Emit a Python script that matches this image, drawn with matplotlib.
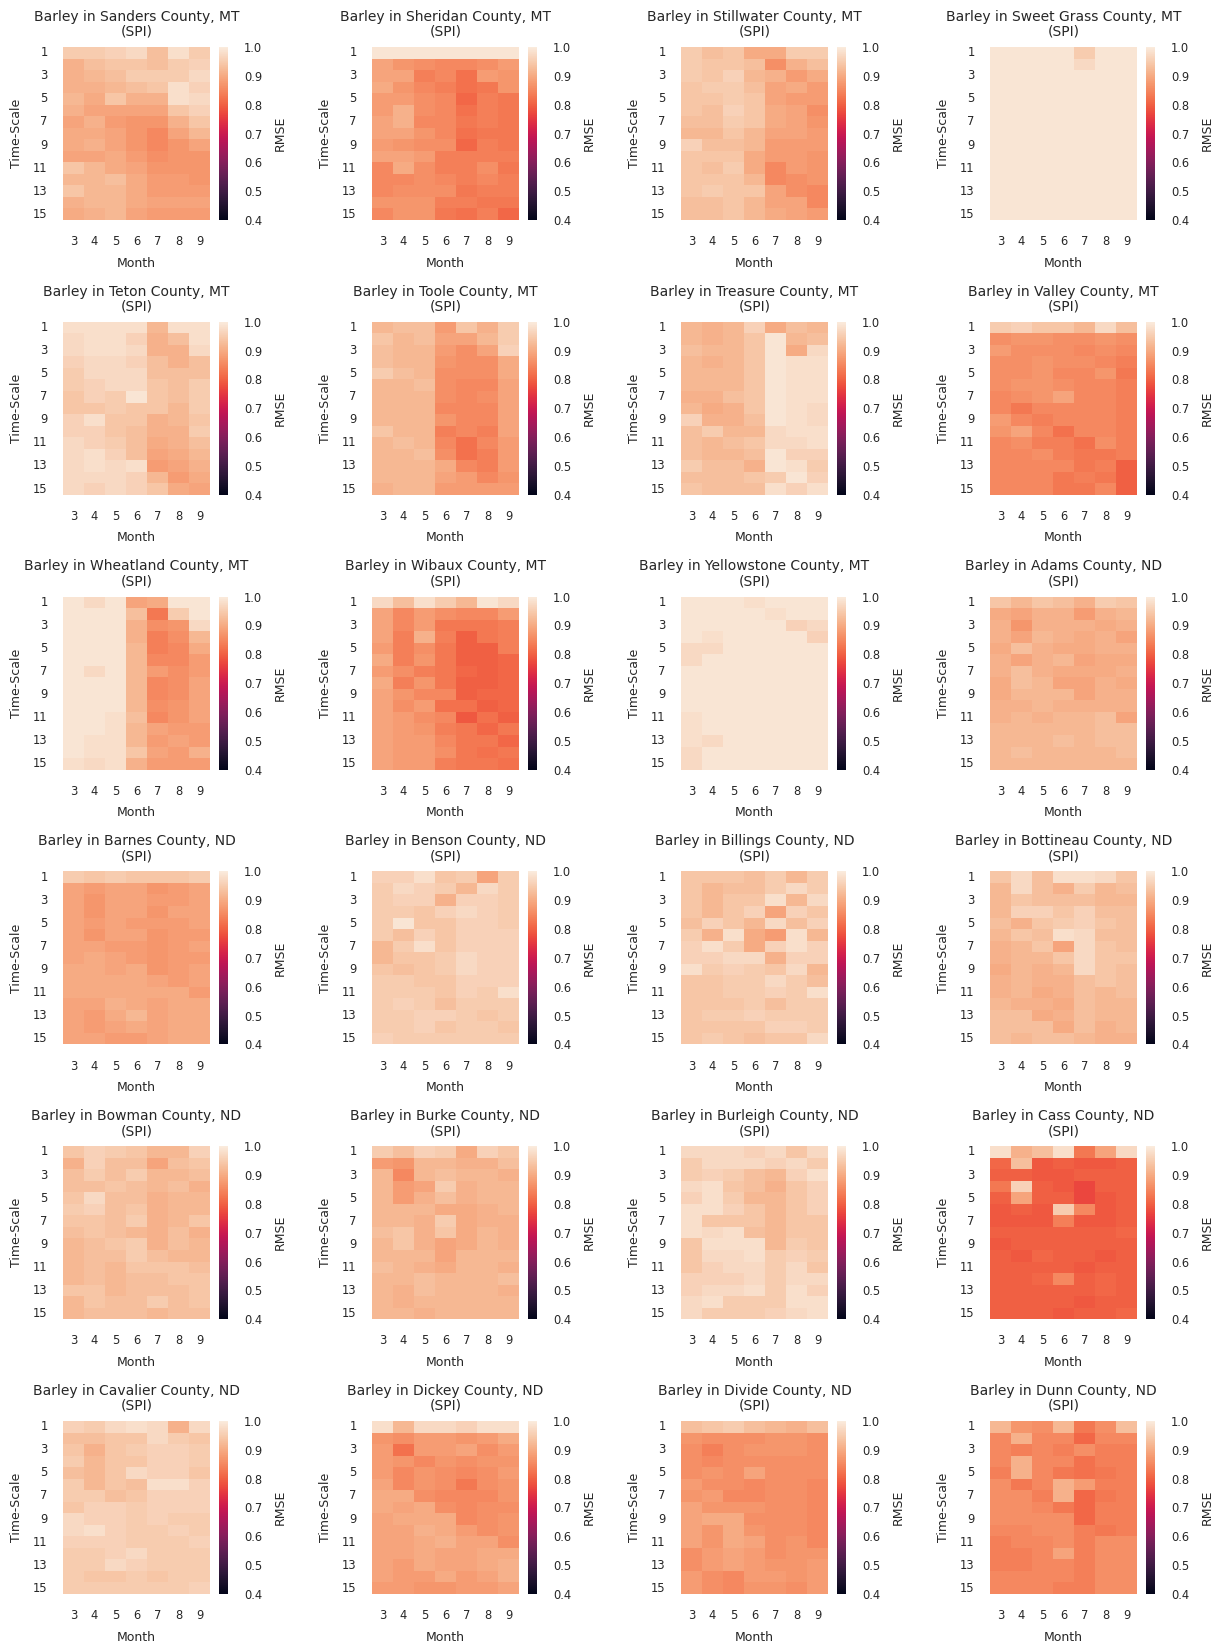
import matplotlib
matplotlib.use("Agg")
import matplotlib.pyplot as plt
import seaborn as sns
import pandas as pd

# RMSE per time-scale (rows 1..15) and month (columns 3..9)
months = [3, 4, 5, 6, 7, 8, 9]
time_scales = [1, 2, 3, 4, 5, 6, 7, 8, 9, 10, 11, 12, 13, 14, 15]

sanders = [
    [0.95, 0.95, 0.96, 0.97, 0.93, 0.98, 0.95],
    [0.91, 0.93, 0.94, 0.94, 0.93, 0.95, 0.96],
    [0.91, 0.92, 0.93, 0.95, 0.95, 0.95, 0.97],
    [0.91, 0.91, 0.92, 0.93, 0.94, 0.98, 0.96],
    [0.92, 0.90, 0.94, 0.91, 0.91, 0.98, 0.97],
    [0.91, 0.89, 0.89, 0.89, 0.89, 0.94, 0.96],
    [0.89, 0.91, 0.88, 0.87, 0.87, 0.91, 0.94],
    [0.90, 0.90, 0.89, 0.87, 0.85, 0.89, 0.92],
    [0.90, 0.91, 0.89, 0.87, 0.85, 0.87, 0.89],
    [0.89, 0.89, 0.90, 0.88, 0.86, 0.87, 0.87],
    [0.94, 0.92, 0.90, 0.89, 0.87, 0.87, 0.87],
    [0.92, 0.92, 0.93, 0.90, 0.88, 0.88, 0.87],
    [0.94, 0.92, 0.92, 0.90, 0.88, 0.88, 0.88],
    [0.91, 0.92, 0.92, 0.90, 0.89, 0.89, 0.89],
    [0.90, 0.91, 0.92, 0.89, 0.88, 0.88, 0.88],
]
sheridan = [
    [0.99, 0.99, 0.99, 0.99, 0.99, 0.99, 0.99],
    [0.89, 0.87, 0.86, 0.85, 0.85, 0.86, 0.88],
    [0.89, 0.89, 0.84, 0.85, 0.82, 0.88, 0.87],
    [0.90, 0.87, 0.85, 0.84, 0.82, 0.83, 0.87],
    [0.88, 0.88, 0.86, 0.85, 0.81, 0.84, 0.83],
    [0.88, 0.91, 0.86, 0.85, 0.82, 0.84, 0.83],
    [0.89, 0.91, 0.85, 0.85, 0.83, 0.84, 0.83],
    [0.89, 0.89, 0.87, 0.85, 0.82, 0.83, 0.83],
    [0.88, 0.87, 0.86, 0.86, 0.81, 0.84, 0.83],
    [0.89, 0.89, 0.88, 0.84, 0.84, 0.84, 0.84],
    [0.85, 0.90, 0.86, 0.84, 0.84, 0.86, 0.83],
    [0.85, 0.85, 0.86, 0.85, 0.84, 0.85, 0.84],
    [0.85, 0.86, 0.86, 0.86, 0.83, 0.84, 0.84],
    [0.87, 0.87, 0.87, 0.84, 0.84, 0.83, 0.83],
    [0.85, 0.87, 0.87, 0.83, 0.82, 0.84, 0.81],
]
stillwater = [
    [0.95, 0.93, 0.94, 0.90, 0.90, 0.95, 0.95],
    [0.95, 0.94, 0.94, 0.93, 0.86, 0.91, 0.93],
    [0.95, 0.94, 0.96, 0.92, 0.91, 0.88, 0.90],
    [0.94, 0.95, 0.95, 0.93, 0.89, 0.90, 0.88],
    [0.94, 0.94, 0.95, 0.94, 0.89, 0.88, 0.88],
    [0.94, 0.93, 0.96, 0.94, 0.90, 0.89, 0.86],
    [0.93, 0.93, 0.95, 0.94, 0.90, 0.89, 0.87],
    [0.92, 0.92, 0.94, 0.92, 0.89, 0.89, 0.88],
    [0.96, 0.93, 0.93, 0.92, 0.88, 0.88, 0.88],
    [0.94, 0.94, 0.94, 0.90, 0.88, 0.88, 0.87],
    [0.94, 0.93, 0.95, 0.90, 0.85, 0.88, 0.87],
    [0.94, 0.94, 0.94, 0.92, 0.85, 0.86, 0.87],
    [0.94, 0.95, 0.94, 0.94, 0.89, 0.86, 0.85],
    [0.93, 0.93, 0.94, 0.92, 0.89, 0.89, 0.85],
    [0.93, 0.93, 0.94, 0.92, 0.90, 0.89, 0.88],
]
sweet_grass = [
    [0.99, 0.99, 0.99, 0.99, 0.95, 0.99, 0.99],
    [0.99, 0.99, 0.99, 0.99, 0.97, 0.99, 0.99],
    [0.99, 0.99, 0.99, 0.99, 0.99, 0.99, 0.99],
    [0.99, 0.99, 0.99, 0.99, 0.99, 0.99, 0.99],
    [0.99, 0.99, 0.99, 0.99, 0.99, 0.99, 0.99],
    [0.99, 0.99, 0.99, 0.99, 0.99, 0.99, 0.99],
    [0.99, 0.99, 0.99, 0.99, 0.99, 0.99, 0.99],
    [0.99, 0.99, 0.99, 0.99, 0.99, 0.99, 0.99],
    [0.99, 0.99, 0.99, 0.99, 0.99, 0.99, 0.99],
    [0.99, 0.99, 0.99, 0.99, 0.99, 0.99, 0.99],
    [0.99, 0.99, 0.99, 0.99, 0.99, 0.99, 0.99],
    [0.99, 0.99, 0.99, 0.99, 0.99, 0.99, 0.99],
    [0.99, 0.99, 0.99, 0.99, 0.99, 0.99, 0.99],
    [0.99, 0.99, 0.99, 0.99, 0.99, 0.99, 0.99],
    [0.99, 0.99, 0.99, 0.99, 0.99, 0.99, 0.99],
]
teton = [
    [0.98, 0.98, 0.98, 0.98, 0.92, 0.98, 0.98],
    [0.97, 0.98, 0.98, 0.96, 0.91, 0.93, 0.98],
    [0.97, 0.98, 0.98, 0.97, 0.91, 0.91, 0.97],
    [0.96, 0.97, 0.97, 0.96, 0.93, 0.91, 0.93],
    [0.95, 0.97, 0.97, 0.97, 0.93, 0.93, 0.93],
    [0.95, 0.96, 0.97, 0.97, 0.94, 0.93, 0.95],
    [0.94, 0.96, 0.95, 0.99, 0.94, 0.93, 0.95],
    [0.94, 0.94, 0.95, 0.94, 0.94, 0.92, 0.95],
    [0.96, 0.98, 0.94, 0.94, 0.91, 0.92, 0.94],
    [0.96, 0.96, 0.94, 0.93, 0.91, 0.91, 0.95],
    [0.97, 0.96, 0.95, 0.93, 0.90, 0.91, 0.93],
    [0.97, 0.98, 0.96, 0.93, 0.89, 0.90, 0.92],
    [0.97, 0.98, 0.97, 0.98, 0.88, 0.89, 0.91],
    [0.97, 0.97, 0.97, 0.96, 0.92, 0.88, 0.90],
    [0.97, 0.96, 0.97, 0.96, 0.94, 0.90, 0.89],
]
toole = [
    [0.92, 0.93, 0.93, 0.88, 0.94, 0.91, 0.95],
    [0.94, 0.92, 0.93, 0.89, 0.89, 0.92, 0.95],
    [0.93, 0.92, 0.92, 0.88, 0.86, 0.89, 0.96],
    [0.93, 0.92, 0.92, 0.87, 0.86, 0.86, 0.90],
    [0.95, 0.93, 0.92, 0.86, 0.86, 0.86, 0.90],
    [0.92, 0.92, 0.93, 0.86, 0.85, 0.85, 0.89],
    [0.92, 0.92, 0.92, 0.86, 0.85, 0.86, 0.89],
    [0.92, 0.92, 0.92, 0.85, 0.85, 0.85, 0.89],
    [0.92, 0.92, 0.92, 0.87, 0.85, 0.85, 0.89],
    [0.94, 0.92, 0.92, 0.84, 0.85, 0.84, 0.89],
    [0.92, 0.93, 0.92, 0.85, 0.82, 0.85, 0.88],
    [0.92, 0.92, 0.93, 0.86, 0.82, 0.84, 0.88],
    [0.92, 0.92, 0.92, 0.90, 0.85, 0.84, 0.88],
    [0.92, 0.92, 0.92, 0.89, 0.88, 0.85, 0.87],
    [0.91, 0.92, 0.92, 0.88, 0.88, 0.88, 0.88],
]
treasure = [
    [0.92, 0.91, 0.92, 0.96, 0.90, 0.93, 0.92],
    [0.92, 0.91, 0.92, 0.94, 0.99, 0.92, 0.93],
    [0.93, 0.92, 0.92, 0.94, 0.99, 0.90, 0.97],
    [0.92, 0.91, 0.92, 0.94, 0.99, 0.98, 0.98],
    [0.92, 0.92, 0.92, 0.94, 0.99, 0.98, 0.98],
    [0.92, 0.92, 0.92, 0.94, 0.99, 0.98, 0.98],
    [0.91, 0.91, 0.93, 0.94, 0.99, 0.98, 0.98],
    [0.92, 0.90, 0.91, 0.94, 0.99, 0.98, 0.97],
    [0.96, 0.91, 0.91, 0.93, 0.99, 0.98, 0.97],
    [0.93, 0.95, 0.92, 0.92, 0.97, 0.98, 0.98],
    [0.93, 0.92, 0.93, 0.94, 0.97, 0.97, 0.98],
    [0.93, 0.92, 0.92, 0.93, 0.99, 0.96, 0.96],
    [0.95, 0.93, 0.93, 0.91, 0.99, 0.98, 0.95],
    [0.93, 0.93, 0.93, 0.94, 0.95, 0.99, 0.96],
    [0.94, 0.93, 0.93, 0.93, 0.98, 0.96, 0.98],
]
valley = [
    [0.95, 0.96, 0.94, 0.94, 0.92, 0.97, 0.93],
    [0.86, 0.87, 0.87, 0.86, 0.86, 0.87, 0.86],
    [0.88, 0.86, 0.86, 0.86, 0.85, 0.86, 0.85],
    [0.86, 0.86, 0.87, 0.86, 0.86, 0.85, 0.84],
    [0.86, 0.86, 0.87, 0.85, 0.85, 0.87, 0.83],
    [0.86, 0.87, 0.87, 0.86, 0.85, 0.85, 0.84],
    [0.85, 0.86, 0.87, 0.89, 0.85, 0.85, 0.84],
    [0.85, 0.83, 0.85, 0.85, 0.85, 0.85, 0.84],
    [0.88, 0.85, 0.84, 0.85, 0.85, 0.85, 0.84],
    [0.87, 0.89, 0.85, 0.82, 0.85, 0.85, 0.84],
    [0.85, 0.86, 0.84, 0.84, 0.82, 0.86, 0.84],
    [0.85, 0.85, 0.86, 0.84, 0.83, 0.83, 0.84],
    [0.85, 0.85, 0.85, 0.85, 0.83, 0.84, 0.80],
    [0.85, 0.85, 0.85, 0.83, 0.84, 0.83, 0.80],
    [0.85, 0.85, 0.85, 0.83, 0.83, 0.85, 0.80],
]
wheatland = [
    [0.99, 0.97, 0.99, 0.89, 0.90, 0.99, 0.99],
    [0.99, 0.99, 0.99, 0.93, 0.83, 0.95, 0.99],
    [0.99, 0.99, 0.99, 0.91, 0.86, 0.87, 0.97],
    [0.99, 0.99, 0.99, 0.91, 0.84, 0.86, 0.92],
    [0.99, 0.99, 0.99, 0.92, 0.84, 0.85, 0.90],
    [0.99, 0.99, 0.99, 0.92, 0.85, 0.85, 0.88],
    [0.99, 0.97, 0.99, 0.92, 0.88, 0.86, 0.88],
    [0.99, 0.99, 0.99, 0.92, 0.85, 0.86, 0.89],
    [0.99, 0.99, 0.99, 0.92, 0.85, 0.86, 0.89],
    [0.99, 0.99, 0.99, 0.92, 0.86, 0.87, 0.89],
    [0.99, 0.99, 0.98, 0.93, 0.85, 0.87, 0.89],
    [0.99, 0.99, 0.98, 0.92, 0.89, 0.88, 0.88],
    [0.99, 0.98, 0.98, 0.92, 0.88, 0.89, 0.88],
    [0.99, 0.98, 0.98, 0.94, 0.89, 0.88, 0.91],
    [0.98, 0.97, 0.98, 0.91, 0.88, 0.88, 0.88],
]
wibaux = [
    [0.97, 0.93, 0.98, 0.95, 0.92, 0.99, 0.97],
    [0.89, 0.85, 0.88, 0.86, 0.85, 0.85, 0.88],
    [0.89, 0.85, 0.88, 0.83, 0.83, 0.83, 0.84],
    [0.89, 0.84, 0.91, 0.84, 0.80, 0.83, 0.84],
    [0.88, 0.84, 0.86, 0.83, 0.80, 0.80, 0.84],
    [0.90, 0.84, 0.87, 0.83, 0.80, 0.80, 0.81],
    [0.88, 0.86, 0.84, 0.83, 0.81, 0.80, 0.81],
    [0.90, 0.84, 0.87, 0.83, 0.80, 0.80, 0.81],
    [0.89, 0.87, 0.85, 0.85, 0.80, 0.81, 0.81],
    [0.89, 0.86, 0.88, 0.82, 0.82, 0.80, 0.81],
    [0.89, 0.88, 0.86, 0.85, 0.79, 0.82, 0.80],
    [0.89, 0.88, 0.87, 0.84, 0.83, 0.81, 0.83],
    [0.89, 0.88, 0.88, 0.85, 0.83, 0.83, 0.81],
    [0.89, 0.88, 0.88, 0.86, 0.83, 0.82, 0.83],
    [0.89, 0.88, 0.88, 0.84, 0.83, 0.83, 0.82],
]
yellowstone = [
    [0.99, 0.99, 0.99, 0.98, 0.99, 0.99, 0.99],
    [0.99, 0.99, 0.99, 0.99, 0.98, 0.99, 0.99],
    [0.99, 0.99, 0.99, 0.99, 0.99, 0.96, 0.97],
    [0.99, 0.98, 0.99, 0.99, 0.99, 0.99, 0.96],
    [0.97, 0.97, 0.99, 0.99, 0.99, 0.99, 0.99],
    [0.97, 0.99, 0.99, 0.99, 0.99, 0.99, 0.99],
    [0.99, 0.99, 0.99, 0.99, 0.99, 0.99, 0.99],
    [0.99, 0.99, 0.99, 0.99, 0.99, 0.99, 0.99],
    [0.99, 0.99, 0.99, 0.99, 0.99, 0.99, 0.99],
    [0.99, 0.99, 0.99, 0.99, 0.99, 0.99, 0.99],
    [0.98, 0.99, 0.99, 0.99, 0.99, 0.99, 0.99],
    [0.98, 0.99, 0.99, 0.99, 0.99, 0.99, 0.99],
    [0.98, 0.97, 0.99, 0.99, 0.99, 0.99, 0.99],
    [0.97, 0.99, 0.99, 0.99, 0.99, 0.99, 0.99],
    [0.97, 0.99, 0.99, 0.99, 0.99, 0.99, 0.99],
]
adams = [
    [0.94, 0.92, 0.94, 0.93, 0.91, 0.95, 0.94],
    [0.90, 0.89, 0.91, 0.91, 0.88, 0.91, 0.92],
    [0.91, 0.87, 0.91, 0.91, 0.91, 0.90, 0.91],
    [0.91, 0.89, 0.92, 0.91, 0.90, 0.91, 0.89],
    [0.90, 0.93, 0.91, 0.90, 0.90, 0.91, 0.91],
    [0.91, 0.89, 0.91, 0.92, 0.89, 0.90, 0.90],
    [0.91, 0.93, 0.91, 0.90, 0.90, 0.90, 0.91],
    [0.90, 0.93, 0.92, 0.89, 0.89, 0.91, 0.90],
    [0.90, 0.92, 0.92, 0.92, 0.89, 0.91, 0.91],
    [0.91, 0.91, 0.92, 0.91, 0.91, 0.91, 0.91],
    [0.91, 0.92, 0.91, 0.92, 0.92, 0.93, 0.89],
    [0.92, 0.92, 0.92, 0.92, 0.92, 0.93, 0.93],
    [0.92, 0.92, 0.92, 0.93, 0.92, 0.93, 0.93],
    [0.92, 0.93, 0.92, 0.92, 0.92, 0.92, 0.93],
    [0.92, 0.92, 0.92, 0.92, 0.92, 0.92, 0.92],
]
barnes = [
    [0.95, 0.94, 0.95, 0.94, 0.94, 0.94, 0.95],
    [0.89, 0.88, 0.89, 0.89, 0.87, 0.88, 0.89],
    [0.89, 0.87, 0.89, 0.89, 0.88, 0.88, 0.89],
    [0.89, 0.87, 0.89, 0.89, 0.87, 0.89, 0.89],
    [0.89, 0.88, 0.89, 0.88, 0.88, 0.88, 0.89],
    [0.89, 0.87, 0.89, 0.89, 0.87, 0.88, 0.88],
    [0.89, 0.89, 0.88, 0.88, 0.87, 0.88, 0.89],
    [0.89, 0.90, 0.89, 0.88, 0.87, 0.88, 0.88],
    [0.90, 0.90, 0.89, 0.90, 0.87, 0.88, 0.89],
    [0.90, 0.90, 0.90, 0.90, 0.89, 0.88, 0.89],
    [0.90, 0.90, 0.90, 0.90, 0.90, 0.90, 0.88],
    [0.89, 0.89, 0.91, 0.90, 0.89, 0.90, 0.90],
    [0.89, 0.88, 0.90, 0.92, 0.89, 0.90, 0.90],
    [0.89, 0.88, 0.89, 0.90, 0.89, 0.90, 0.90],
    [0.89, 0.89, 0.88, 0.88, 0.89, 0.90, 0.90],
]
benson = [
    [0.96, 0.96, 0.98, 0.94, 0.95, 0.89, 0.95],
    [0.95, 0.97, 0.96, 0.95, 0.92, 0.97, 0.95],
    [0.95, 0.96, 0.96, 0.91, 0.96, 0.96, 0.95],
    [0.95, 0.95, 0.94, 0.96, 0.97, 0.96, 0.95],
    [0.95, 0.99, 0.94, 0.94, 0.96, 0.96, 0.95],
    [0.95, 0.93, 0.96, 0.94, 0.96, 0.96, 0.96],
    [0.92, 0.95, 0.98, 0.94, 0.96, 0.96, 0.96],
    [0.92, 0.94, 0.94, 0.95, 0.97, 0.96, 0.96],
    [0.94, 0.93, 0.94, 0.95, 0.97, 0.96, 0.96],
    [0.95, 0.95, 0.94, 0.94, 0.96, 0.96, 0.96],
    [0.95, 0.95, 0.95, 0.94, 0.96, 0.95, 0.98],
    [0.95, 0.96, 0.95, 0.93, 0.95, 0.95, 0.95],
    [0.95, 0.95, 0.96, 0.96, 0.95, 0.94, 0.95],
    [0.95, 0.95, 0.96, 0.94, 0.95, 0.95, 0.94],
    [0.96, 0.95, 0.95, 0.95, 0.95, 0.95, 0.95],
]
billings = [
    [0.94, 0.94, 0.94, 0.93, 0.95, 0.92, 0.95],
    [0.94, 0.92, 0.93, 0.93, 0.95, 0.97, 0.95],
    [0.94, 0.92, 0.94, 0.94, 0.98, 0.92, 0.97],
    [0.94, 0.92, 0.94, 0.96, 0.89, 0.96, 0.94],
    [0.93, 0.96, 0.94, 0.92, 0.97, 0.93, 0.96],
    [0.95, 0.91, 0.98, 0.90, 0.88, 0.98, 0.92],
    [0.96, 0.98, 0.95, 0.90, 0.96, 0.98, 0.96],
    [0.96, 0.96, 0.97, 0.97, 0.91, 0.96, 0.96],
    [0.98, 0.95, 0.96, 0.95, 0.94, 0.97, 0.92],
    [0.94, 0.94, 0.95, 0.95, 0.97, 0.95, 0.93],
    [0.94, 0.94, 0.95, 0.95, 0.96, 0.95, 0.98],
    [0.94, 0.94, 0.94, 0.95, 0.93, 0.95, 0.95],
    [0.94, 0.95, 0.95, 0.96, 0.95, 0.95, 0.95],
    [0.94, 0.94, 0.94, 0.94, 0.96, 0.96, 0.95],
    [0.94, 0.95, 0.94, 0.93, 0.94, 0.94, 0.97],
]
bottineau = [
    [0.94, 0.97, 0.93, 0.98, 0.98, 0.97, 0.94],
    [0.92, 0.97, 0.93, 0.91, 0.95, 0.92, 0.93],
    [0.92, 0.94, 0.93, 0.93, 0.93, 0.92, 0.92],
    [0.92, 0.96, 0.96, 0.94, 0.96, 0.93, 0.93],
    [0.93, 0.91, 0.94, 0.95, 0.96, 0.94, 0.93],
    [0.92, 0.94, 0.93, 0.98, 0.97, 0.93, 0.93],
    [0.91, 0.92, 0.94, 0.89, 0.97, 0.94, 0.93],
    [0.91, 0.92, 0.92, 0.94, 0.97, 0.94, 0.94],
    [0.90, 0.92, 0.91, 0.92, 0.97, 0.94, 0.93],
    [0.91, 0.92, 0.91, 0.91, 0.93, 0.94, 0.93],
    [0.91, 0.92, 0.90, 0.91, 0.93, 0.92, 0.93],
    [0.92, 0.91, 0.91, 0.90, 0.93, 0.92, 0.92],
    [0.93, 0.93, 0.90, 0.91, 0.93, 0.92, 0.92],
    [0.93, 0.93, 0.93, 0.90, 0.93, 0.91, 0.92],
    [0.93, 0.92, 0.93, 0.93, 0.92, 0.91, 0.91],
]
bowman = [
    [0.94, 0.96, 0.95, 0.94, 0.92, 0.92, 0.96],
    [0.91, 0.96, 0.93, 0.93, 0.89, 0.93, 0.94],
    [0.93, 0.95, 0.93, 0.95, 0.92, 0.92, 0.93],
    [0.93, 0.93, 0.94, 0.93, 0.92, 0.93, 0.91],
    [0.94, 0.97, 0.93, 0.93, 0.91, 0.92, 0.92],
    [0.95, 0.96, 0.93, 0.94, 0.91, 0.92, 0.92],
    [0.94, 0.94, 0.93, 0.95, 0.91, 0.92, 0.94],
    [0.93, 0.94, 0.93, 0.92, 0.91, 0.93, 0.91],
    [0.92, 0.93, 0.94, 0.95, 0.91, 0.93, 0.92],
    [0.92, 0.93, 0.93, 0.95, 0.93, 0.92, 0.92],
    [0.92, 0.93, 0.92, 0.94, 0.94, 0.94, 0.93],
    [0.92, 0.93, 0.92, 0.93, 0.93, 0.94, 0.94],
    [0.94, 0.94, 0.92, 0.93, 0.93, 0.93, 0.94],
    [0.92, 0.94, 0.93, 0.93, 0.95, 0.93, 0.94],
    [0.92, 0.93, 0.93, 0.93, 0.92, 0.93, 0.93],
]
burke = [
    [0.95, 0.93, 0.96, 0.95, 0.90, 0.96, 0.94],
    [0.88, 0.87, 0.92, 0.92, 0.91, 0.91, 0.93],
    [0.92, 0.85, 0.92, 0.93, 0.92, 0.92, 0.91],
    [0.92, 0.88, 0.89, 0.95, 0.91, 0.92, 0.92],
    [0.92, 0.88, 0.91, 0.93, 0.91, 0.92, 0.92],
    [0.92, 0.92, 0.92, 0.90, 0.90, 0.91, 0.92],
    [0.92, 0.92, 0.91, 0.95, 0.90, 0.91, 0.91],
    [0.93, 0.94, 0.91, 0.94, 0.90, 0.92, 0.91],
    [0.92, 0.94, 0.91, 0.89, 0.90, 0.92, 0.91],
    [0.92, 0.92, 0.92, 0.89, 0.92, 0.92, 0.92],
    [0.93, 0.92, 0.91, 0.90, 0.92, 0.92, 0.91],
    [0.92, 0.92, 0.93, 0.92, 0.92, 0.92, 0.93],
    [0.92, 0.91, 0.93, 0.92, 0.92, 0.92, 0.91],
    [0.92, 0.91, 0.92, 0.92, 0.92, 0.92, 0.92],
    [0.92, 0.92, 0.91, 0.92, 0.92, 0.92, 0.92],
]
burleigh = [
    [0.97, 0.97, 0.97, 0.96, 0.97, 0.94, 0.97],
    [0.95, 0.97, 0.97, 0.97, 0.96, 0.97, 0.95],
    [0.95, 0.96, 0.95, 0.93, 0.92, 0.96, 0.98],
    [0.97, 0.98, 0.94, 0.93, 0.91, 0.94, 0.96],
    [0.96, 0.98, 0.95, 0.92, 0.92, 0.94, 0.96],
    [0.98, 0.98, 0.96, 0.94, 0.92, 0.94, 0.96],
    [0.98, 0.94, 0.94, 0.94, 0.92, 0.94, 0.94],
    [0.98, 0.97, 0.98, 0.93, 0.92, 0.94, 0.94],
    [0.94, 0.98, 0.98, 0.98, 0.92, 0.95, 0.94],
    [0.94, 0.97, 0.97, 0.98, 0.95, 0.96, 0.95],
    [0.94, 0.96, 0.97, 0.97, 0.95, 0.97, 0.94],
    [0.96, 0.96, 0.96, 0.97, 0.95, 0.97, 0.97],
    [0.96, 0.97, 0.97, 0.98, 0.95, 0.98, 0.96],
    [0.97, 0.98, 0.95, 0.95, 0.95, 0.98, 0.98],
    [0.97, 0.95, 0.95, 0.95, 0.96, 0.97, 0.98],
]
cass = [
    [0.98, 0.91, 0.93, 0.98, 0.83, 0.89, 0.97],
    [0.81, 0.93, 0.79, 0.80, 0.79, 0.79, 0.80],
    [0.80, 0.80, 0.79, 0.79, 0.80, 0.80, 0.80],
    [0.83, 0.96, 0.80, 0.79, 0.77, 0.80, 0.80],
    [0.80, 0.89, 0.80, 0.80, 0.77, 0.79, 0.80],
    [0.79, 0.80, 0.79, 0.95, 0.85, 0.79, 0.80],
    [0.79, 0.79, 0.79, 0.84, 0.79, 0.79, 0.80],
    [0.80, 0.80, 0.80, 0.80, 0.80, 0.80, 0.81],
    [0.79, 0.80, 0.80, 0.80, 0.80, 0.80, 0.80],
    [0.80, 0.79, 0.81, 0.80, 0.80, 0.79, 0.80],
    [0.80, 0.80, 0.80, 0.80, 0.79, 0.80, 0.80],
    [0.80, 0.80, 0.81, 0.85, 0.80, 0.81, 0.80],
    [0.80, 0.80, 0.80, 0.80, 0.80, 0.81, 0.80],
    [0.80, 0.80, 0.80, 0.80, 0.79, 0.80, 0.80],
    [0.80, 0.80, 0.80, 0.79, 0.80, 0.80, 0.81],
]
cavalier = [
    [0.96, 0.95, 0.97, 0.98, 0.97, 0.91, 0.97],
    [0.93, 0.93, 0.94, 0.94, 0.97, 0.95, 0.94],
    [0.94, 0.91, 0.94, 0.95, 0.96, 0.96, 0.95],
    [0.95, 0.92, 0.94, 0.94, 0.96, 0.96, 0.95],
    [0.93, 0.92, 0.94, 0.97, 0.96, 0.96, 0.94],
    [0.95, 0.92, 0.94, 0.93, 0.98, 0.98, 0.96],
    [0.95, 0.95, 0.93, 0.94, 0.96, 0.96, 0.96],
    [0.94, 0.96, 0.96, 0.95, 0.96, 0.96, 0.96],
    [0.97, 0.96, 0.96, 0.95, 0.96, 0.95, 0.95],
    [0.97, 0.98, 0.96, 0.95, 0.95, 0.96, 0.95],
    [0.96, 0.96, 0.96, 0.95, 0.95, 0.95, 0.96],
    [0.95, 0.95, 0.96, 0.97, 0.95, 0.95, 0.95],
    [0.95, 0.95, 0.97, 0.96, 0.95, 0.95, 0.95],
    [0.95, 0.94, 0.94, 0.95, 0.94, 0.95, 0.95],
    [0.95, 0.95, 0.95, 0.95, 0.95, 0.95, 0.96],
]
dickey = [
    [0.98, 0.92, 0.97, 0.97, 0.96, 0.98, 0.98],
    [0.87, 0.86, 0.88, 0.88, 0.87, 0.88, 0.90],
    [0.88, 0.82, 0.88, 0.88, 0.89, 0.86, 0.88],
    [0.88, 0.87, 0.85, 0.87, 0.86, 0.87, 0.87],
    [0.88, 0.85, 0.87, 0.86, 0.85, 0.86, 0.88],
    [0.89, 0.85, 0.87, 0.86, 0.83, 0.86, 0.87],
    [0.90, 0.90, 0.86, 0.85, 0.85, 0.85, 0.87],
    [0.90, 0.89, 0.90, 0.86, 0.85, 0.86, 0.86],
    [0.89, 0.90, 0.90, 0.90, 0.85, 0.86, 0.87],
    [0.89, 0.89, 0.91, 0.90, 0.88, 0.86, 0.87],
    [0.89, 0.89, 0.90, 0.91, 0.89, 0.89, 0.86],
    [0.89, 0.89, 0.90, 0.89, 0.89, 0.90, 0.90],
    [0.89, 0.88, 0.90, 0.89, 0.89, 0.90, 0.91],
    [0.89, 0.88, 0.88, 0.90, 0.88, 0.89, 0.91],
    [0.88, 0.88, 0.87, 0.87, 0.88, 0.88, 0.89],
]
divide = [
    [0.93, 0.94, 0.95, 0.93, 0.92, 0.91, 0.93],
    [0.87, 0.86, 0.86, 0.86, 0.87, 0.87, 0.86],
    [0.86, 0.84, 0.86, 0.87, 0.87, 0.87, 0.86],
    [0.86, 0.85, 0.86, 0.86, 0.86, 0.86, 0.86],
    [0.86, 0.87, 0.86, 0.89, 0.86, 0.86, 0.86],
    [0.88, 0.86, 0.86, 0.85, 0.86, 0.86, 0.85],
    [0.87, 0.88, 0.85, 0.85, 0.86, 0.86, 0.85],
    [0.89, 0.87, 0.87, 0.87, 0.86, 0.86, 0.85],
    [0.89, 0.90, 0.90, 0.86, 0.86, 0.86, 0.85],
    [0.89, 0.87, 0.90, 0.87, 0.86, 0.86, 0.85],
    [0.89, 0.87, 0.90, 0.89, 0.86, 0.87, 0.85],
    [0.86, 0.88, 0.89, 0.88, 0.86, 0.87, 0.87],
    [0.86, 0.88, 0.89, 0.88, 0.87, 0.87, 0.88],
    [0.88, 0.86, 0.85, 0.88, 0.88, 0.87, 0.88],
    [0.88, 0.86, 0.85, 0.87, 0.87, 0.86, 0.88],
]
dunn = [
    [0.92, 0.87, 0.86, 0.92, 0.83, 0.86, 0.93],
    [0.85, 0.91, 0.85, 0.85, 0.81, 0.85, 0.85],
    [0.85, 0.84, 0.85, 0.84, 0.86, 0.84, 0.84],
    [0.85, 0.91, 0.85, 0.85, 0.82, 0.84, 0.84],
    [0.84, 0.91, 0.85, 0.83, 0.82, 0.83, 0.84],
    [0.86, 0.83, 0.85, 0.91, 0.88, 0.84, 0.84],
    [0.86, 0.86, 0.84, 0.91, 0.81, 0.83, 0.84],
    [0.86, 0.86, 0.85, 0.83, 0.81, 0.84, 0.84],
    [0.86, 0.86, 0.86, 0.86, 0.81, 0.84, 0.84],
    [0.85, 0.85, 0.86, 0.86, 0.84, 0.83, 0.84],
    [0.84, 0.85, 0.85, 0.86, 0.84, 0.86, 0.86],
    [0.84, 0.84, 0.85, 0.89, 0.84, 0.86, 0.86],
    [0.84, 0.84, 0.85, 0.85, 0.84, 0.86, 0.86],
    [0.85, 0.85, 0.85, 0.85, 0.84, 0.86, 0.86],
    [0.85, 0.85, 0.85, 0.84, 0.84, 0.86, 0.86],
]

counties = [
    "Sanders County, MT", "Sheridan County, MT", "Stillwater County, MT", "Sweet Grass County, MT",
    "Teton County, MT", "Toole County, MT", "Treasure County, MT", "Valley County, MT",
    "Wheatland County, MT", "Wibaux County, MT", "Yellowstone County, MT", "Adams County, ND",
    "Barnes County, ND", "Benson County, ND", "Billings County, ND", "Bottineau County, ND",
    "Bowman County, ND", "Burke County, ND", "Burleigh County, ND", "Cass County, ND",
    "Cavalier County, ND", "Dickey County, ND", "Divide County, ND", "Dunn County, ND",
]
tables = [
    sanders, sheridan, stillwater, sweet_grass,
    teton, toole, treasure, valley,
    wheatland, wibaux, yellowstone, adams,
    barnes, benson, billings, bottineau,
    bowman, burke, burleigh, cass,
    cavalier, dickey, divide, dunn,
]

TXT = "#262626"
plt.rcParams["font.family"] = "DejaVu Sans"
plt.rcParams["text.color"] = TXT
plt.rcParams["axes.labelcolor"] = TXT
plt.rcParams["xtick.color"] = TXT
plt.rcParams["ytick.color"] = TXT

W, H = 1213, 1646
fig = plt.figure(figsize=(W / 100, H / 100), dpi=100)

# layout in pixels
x0, y0 = 63, 47
col_step, row_step = 309, 274.8
hm_w, hm_h = 147, 173
cb_gap, cb_w = 8.5, 9

for i, (name, vals) in enumerate(zip(counties, tables)):
    r, c = divmod(i, 4)
    left = x0 + c * col_step
    top = y0 + r * row_step
    ax = fig.add_axes([left / W, 1 - (top + hm_h) / H, hm_w / W, hm_h / H])
    cax = fig.add_axes([(left + hm_w + cb_gap) / W, 1 - (top + hm_h) / H, cb_w / W, hm_h / H])

    df = pd.DataFrame(vals, index=time_scales, columns=months)
    sns.heatmap(df, ax=ax, cbar_ax=cax, cmap="rocket", vmin=0.4, vmax=1.0,
                yticklabels=2, cbar_kws={"label": "RMSE"})

    ax.set_title("Barley in " + name + "\n(SPI)", fontsize=10, pad=8, linespacing=1.1)
    ax.set_xlabel("Month", fontsize=9, labelpad=6)
    ax.set_ylabel("Time-Scale", fontsize=9, labelpad=7)
    ax.tick_params(axis="both", length=0, pad=11, labelsize=8.3)
    ax.tick_params(axis="y", rotation=0)

    cax.tick_params(length=0, pad=12, labelsize=8.3)
    cax.set_ylabel("RMSE", fontsize=9, labelpad=8)

fig.savefig("out.png", dpi=100)
